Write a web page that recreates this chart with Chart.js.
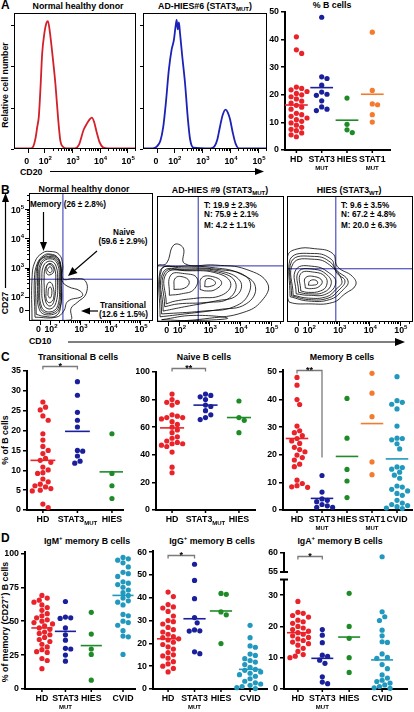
<!DOCTYPE html>
<html>
<head>
<meta charset="utf-8">
<script src="https://cdn.jsdelivr.net/npm/chart.js@4.4.0/dist/chart.umd.min.js"></script>
<style>
  body { margin: 0; width: 414px; height: 712px; position: relative; overflow: hidden; background: #fff;
         font-family: "Liberation Sans", Arial, sans-serif; font-weight: bold; color: #000; }
  canvas { position: absolute; }
  .p { position: absolute; font-size: 12px; }
  .t { position: absolute; font-size: 8.8px; white-space: nowrap; transform: translate(-50%, -50%); }
  .l { position: absolute; font-size: 8.8px; white-space: nowrap; transform: translateY(-50%); }
  .s { position: absolute; font-size: 8.2px; white-space: nowrap; transform: translateY(-50%); }
  .r { position: absolute; font-size: 8.8px; white-space: nowrap; transform: translate(-50%, -50%) rotate(-90deg); }
  sub { font-size: 6px; vertical-align: -2px; line-height: 0; }
  sup { font-size: 6px; vertical-align: 4px; line-height: 0; }
  svg { position: absolute; left: 0; top: 0; }
</style>
</head>
<body>
<div class="p" style="left:1px;top:-2px">A</div>
<div class="t" style="left:78px;top:6px">Normal healthy donor</div>
<div class="t" style="left:205px;top:6px">AD-HIES#6 (STAT3<sub>MUT</sub>)</div>
<div class="t" style="left:332px;top:5px">% B cells</div>
<div class="r" style="left:5px;top:85px">Relative cell number</div>
<div class="l" style="left:20px;top:172px">CD20</div>

<div class="p" style="left:1px;top:183px">B</div>
<div class="t" style="left:84px;top:189px">Normal healthy donor</div>
<div class="t" style="left:220px;top:190px">AD-HIES #9 (STAT3<sub>MUT</sub>)</div>
<div class="t" style="left:349px;top:190px">HIES (STAT3<sub>WT</sub>)</div>
<div class="r" style="left:5px;top:303px">CD27</div>
<div class="l" style="left:29px;top:341px">CD10</div>
<div class="s" style="left:30px;top:204px">Memory (26 ± 2.8%)</div>
<div class="t" style="left:124px;top:232px;font-size:8.2px">Naive</div>
<div class="t" style="left:123px;top:241px;font-size:8.2px">(59.6 ± 2.9%)</div>
<div class="s" style="left:100px;top:305px">Transitional</div>
<div class="s" style="left:99px;top:314px">(12.6 ± 1.5%)</div>
<div class="s" style="left:204px;top:205px">T: 19.9 ± 2.3%</div>
<div class="s" style="left:204px;top:214px">N: 75.9 ± 2.1%</div>
<div class="s" style="left:204px;top:225px">M: 4.2 ± 1.1%</div>
<div class="s" style="left:341px;top:205px">T: 9.6 ± 3.5%</div>
<div class="s" style="left:341px;top:214px">N: 67.2 ± 4.8%</div>
<div class="s" style="left:341px;top:225px">M: 20.0 ± 6.3%</div>

<div class="p" style="left:1px;top:350px">C</div>
<div class="t" style="left:78px;top:357px">Transitional B cells</div>
<div class="t" style="left:204px;top:357px">Naive B cells</div>
<div class="t" style="left:342px;top:357px">Memory B cells</div>
<div class="r" style="left:5px;top:440px">% of B cells</div>

<div class="p" style="left:1px;top:531px">D</div>
<div class="t" style="left:87px;top:541px">IgM<sup>+</sup> memory B cells</div>
<div class="t" style="left:212px;top:541px">IgG<sup>+</sup> memory B cells</div>
<div class="t" style="left:340px;top:541px">IgA<sup>+</sup> memory B cells</div>
<div class="r" style="left:5px;top:622px">% of memory (CD27<sup>+</sup>) B cells</div>

<svg width="414" height="712">
  <g stroke="#000" stroke-width="1.2" fill="#000">
    <line x1="50" y1="171.5" x2="256" y2="171.5"/>
    <polygon points="264,171.5 255,168 255,175" stroke="none"/>
    <line x1="68" y1="342" x2="396" y2="342"/>
    <polygon points="405,342 395,338 395,346" stroke="none"/>
    <line x1="5.5" y1="288" x2="5.5" y2="200"/>
    <polygon points="5.5,193 2,202 9,202" stroke="none"/>
    <line x1="43.5" y1="212" x2="43.5" y2="243"/>
    <polygon points="43.5,251 40,242 47,242" stroke="none"/>
    <line x1="97" y1="251" x2="75" y2="270"/>
    <polygon points="68,276 77.5,273 72.3,267" stroke="none"/>
    <line x1="98" y1="311" x2="89" y2="311"/>
    <polygon points="81,311 90,307.5 90,314.5" stroke="none"/>
  </g>
</svg>

<script>
// ---------- A: CD20 histograms ----------
const redX  = [-0.1, 0.5, 0.6, 0.68, 0.74, 0.8, 0.86, 0.92, 1.0, 1.08, 1.13, 1.2, 1.3, 1.4, 1.5, 1.58, 1.68, 1.8, 2.1, 2.25, 2.42, 2.55, 2.65, 2.72, 2.8, 2.9, 3.0, 3.14, 3.3, 4.32];
const redY  = [0.5, 0.5, 2, 8, 16, 24, 45, 70, 85, 93, 94, 86, 68, 48, 22, 6, 1.5, 0.5, 0.5, 3, 14, 19, 22, 23, 20, 12, 5, 1, 0.5, 0.5];
const blueX = [-0.1, 0.25, 0.4, 0.52, 0.62, 0.72, 0.82, 0.92, 1.0, 1.06, 1.1, 1.14, 1.18, 1.22, 1.3, 1.4, 1.5, 1.58, 1.7, 2.3, 2.45, 2.55, 2.64, 2.74, 2.84, 2.92, 3.0, 3.1, 3.2, 3.32, 4.32];
const blueY = [0.5, 0.5, 2, 6, 16, 35, 58, 73, 80, 90, 95, 88, 93, 85, 68, 48, 22, 7, 1, 0.5, 2, 7, 16, 25, 29, 27, 22, 12, 4, 0.5, 0.5];

// ---------- A: % B cells ----------
const aCats  = ['HD', 'STAT3', 'HIES', 'STAT1'];
const aHD    = [41, 36.3, 35, 22.8, 22.3, 21.8, 21.2, 20.5, 20, 19.3, 18.5, 17.7, 17, 16.2, 15.5, 14.8, 13.3, 12.8, 12.2, 11.6, 11, 10.4, 9.8, 9, 8.2, 7.5, 7, 6.2, 5.5, 4.8];
const aSTAT3 = [48.1, 26.5, 25.9, 23.5, 21, 20.2, 19.8, 17.8, 15.6, 14.8, 14.3];
const aHIES  = [18.8, 9.3, 7.3, 6.3];
const aSTAT1 = [42.7, 21.6, 16.7, 16.4, 12.8, 10.1];
const aMeans = [16.3, 22.6, 10.8, 20.2];

// ---------- B: contour gates (biexponential units, 1 = 10^2 ... 4 = 10^5) ----------
const bGateX = [1.43, 1.64, 1.9];
const bGateY = [1.6, 2.12, 2.02];
const bRings1 = [
  [[0.4,0.2],[0.4,1.6],[0.5,2.2],[0.75,2.5],[1.0,2.55],[1.3,2.45],[1.42,2.1],[1.43,1.62],[1.8,1.62],[2.17,1.55],[2.2,1.1],[1.9,0.8],[1.7,0.6],[1.67,0.2]],
  [[0.5,0.3],[0.48,1.6],[0.58,2.15],[0.8,2.42],[1.0,2.46],[1.25,2.35],[1.36,2.0],[1.4,1.55],[1.6,1.35],[2.0,1.2],[2.07,1.02],[1.6,0.85],[1.45,0.5],[1.2,0.3]],
  [[0.54,0.4],[0.53,1.55],[0.62,2.18],[0.85,2.4],[1.0,2.43],[1.28,2.3],[1.38,1.9],[1.38,1.5],[1.36,0.7],[1.2,0.35],[0.8,0.33]],
  [[0.58,1.5],[0.65,2.2],[1.0,2.38],[1.3,2.2],[1.36,1.5],[1.32,0.6],[1.0,0.38],[0.65,0.55]],
  [[0.62,1.5],[0.69,2.16],[1.0,2.34],[1.28,2.16],[1.33,1.5],[1.29,0.65],[1.0,0.43],[0.69,0.6]],
  [[0.65,1.5],[0.72,2.12],[1.0,2.3],[1.25,2.12],[1.3,1.5],[1.26,0.7],[1.0,0.48],[0.72,0.65]],
  [[0.72,1.5],[0.78,2.05],[1.0,2.22],[1.2,2.05],[1.25,1.5],[1.2,0.8],[1.0,0.58],[0.78,0.75]],
  [[0.8,1.5],[0.84,1.98],[1.0,2.14],[1.15,1.98],[1.19,1.5],[1.14,0.88],[1.0,0.68],[0.85,0.85]],
  [[0.86,1.9],[0.9,2.05],[1.0,2.1],[1.1,2.02],[1.12,1.85],[1.0,1.75],[0.9,1.78]],
  [[0.9,1.92],[1.0,2.03],[1.07,1.9],[1.0,1.82]],
  [[0.86,1.0],[0.9,1.4],[1.0,1.5],[1.1,1.35],[1.12,0.95],[1.0,0.8],[0.9,0.85]],
  [[0.93,1.05],[0.96,1.3],[1.03,1.32],[1.06,1.1],[1.0,0.95]]
];
const bRings2 = [
  [[0.32,0.2],[0.32,2.1],[0.6,2.2],[0.85,2.85],[1.15,2.75],[1.2,2.2],[2.2,2.15],[3.2,2.0],[3.9,1.5],[3.7,0.9],[3.1,0.5],[2.0,0.3],[0.9,0.2]],
  [[0.4,0.35],[0.4,1.95],[1.0,2.1],[2.2,2.05],[3.0,1.85],[3.5,1.4],[3.2,0.8],[2.3,0.6],[1.2,0.45]],
  [[0.45,0.45],[0.45,2.0],[1.1,2.05],[2.25,2.0],[3.2,1.75],[3.3,1.2],[2.8,0.7],[1.8,0.55]],
  [[0.5,0.55],[0.5,1.9],[1.2,2.0],[2.3,1.95],[3.0,1.6],[2.9,1.1],[2.2,0.9],[1.2,0.7]],
  [[0.55,0.7],[0.55,1.88],[1.25,1.97],[2.3,1.9],[2.85,1.55],[2.65,1.0],[1.9,0.85],[1.0,0.8]],
  [[0.6,0.8],[0.6,1.85],[1.3,1.95],[2.3,1.85],[2.7,1.5],[2.4,1.1],[1.6,1.0],[0.9,0.9]],
  [[0.7,1.1],[0.75,1.8],[1.2,1.85],[1.6,1.7],[1.5,1.3],[1.1,1.15]],
  [[0.85,1.3],[0.9,1.7],[1.2,1.72],[1.35,1.55],[1.2,1.35]],
  [[1.7,1.3],[1.75,1.7],[2.1,1.75],[2.4,1.55],[2.2,1.3],[1.9,1.25]],
  [[1.85,1.4],[1.9,1.65],[2.1,1.65],[2.2,1.5],[2.0,1.4]],
  [[0.45,0.25],[1.5,0.4],[2.6,0.3],[1.5,0.22]]
];
const bRings3 = [
  [[0.32,1.0],[0.32,2.45],[0.6,2.7],[1.2,2.72],[1.8,2.55],[1.95,2.1],[2.45,1.75],[2.55,1.45],[2.2,1.15],[1.8,0.85],[1.0,0.8],[0.4,0.85]],
  [[0.4,1.05],[0.4,2.35],[1.2,2.55],[1.75,2.35],[1.9,2.0],[2.3,1.6],[2.1,1.25],[1.7,0.95],[1.0,0.9]],
  [[0.45,1.08],[0.45,2.28],[1.2,2.45],[1.72,2.25],[1.95,1.85],[2.2,1.6],[2.0,1.28],[1.65,1.0],[1.0,0.95]],
  [[0.5,1.1],[0.5,2.2],[1.2,2.35],[1.7,2.15],[2.1,1.6],[1.9,1.3],[1.6,1.05],[1.0,1.0]],
  [[0.6,1.15],[0.6,2.0],[1.2,2.1],[1.65,1.9],[1.9,1.55],[1.6,1.15],[1.0,1.1]],
  [[0.68,1.2],[0.68,1.92],[1.2,2.0],[1.6,1.82],[1.75,1.5],[1.5,1.2],[1.0,1.15]],
  [[0.75,1.25],[0.75,1.85],[1.2,1.9],[1.55,1.75],[1.6,1.45],[1.4,1.25],[1.0,1.2]],
  [[0.9,1.35],[0.9,1.7],[1.2,1.75],[1.45,1.6],[1.35,1.4],[1.1,1.33]],
  [[1.0,1.45],[1.05,1.6],[1.25,1.62],[1.3,1.5],[1.15,1.45]]
];

// ---------- C ----------
const cTransHD    = [27.2, 25.9, 25.2, 23.7, 22.6, 19.2, 17.6, 16, 15, 14.2, 13, 12.5, 12, 10.8, 10.1, 9.4, 9.2, 7.8, 7.1, 6.5, 6.1, 5.8, 5.4, 5.0, 4.8, 1.5, 0.6];
const cTransSTAT3 = [32.3, 28.9, 24.6, 22.6, 20.9, 15, 14.8, 13.6, 12.3, 11.8];
const cTransHIES  = [19.2, 9.2, 6.1, 2.9];
const cTransMeans = [12.5, 19.8, 9.6];
const cNaiveHD    = [84, 80, 78, 78, 76, 69, 68, 67, 67, 66, 64, 62, 60, 58, 56, 53, 52, 50, 49, 48, 48, 47, 46, 42, 31, 27];
const cNaiveSTAT3 = [84, 83, 82, 80, 76, 75, 72, 69, 67, 65.5];
const cNaiveHIES  = [79, 67, 65, 56];
const cNaiveMeans = [59.5, 76, 67];
const cMemHD    = [48, 45.2, 40, 38.2, 30.4, 28.7, 28, 26.9, 25.9, 25, 24.1, 22.7, 21.9, 21.1, 19.9, 19, 18.1, 16.6, 15.7, 10.8, 9.6, 8.8, 8.4, 8.2];
const cMemSTAT3 = [12.5, 6.5, 4, 3.5, 3, 2, 1.5, 1, 1];
const cMemHIES  = [40.4, 26, 14.7, 10.5, 4.5];
const cMemSTAT1 = [49.5, 42.3, 33.8, 17.4, 12.8];
const cMemCVID  = [48.3, 39.6, 39, 38.3, 36.6, 30.4, 26, 25.9, 25.4, 24, 22.1, 15.6, 15.4, 14.8, 13.7, 12.6, 11.5, 8.7, 8.3, 7.5, 6.9, 6, 5.3, 3.5, 2.5, 2, 1.6, 1.2, 0.7, 0.5];
const cMemMeans = [25.9, 4.2, 19.4, 31.3, 18.5];

// ---------- D ----------
const dIgMHD    = [69, 67, 65.5, 64, 62, 60, 58, 55.5, 54, 52.5, 51, 50, 49, 48, 46.5, 45, 44, 42, 41, 40, 38, 36.5, 35, 33, 31, 29, 27.5, 27, 22.5, 21, 15];
const dIgMSTAT3 = [64.5, 53, 52.5, 52, 45, 40, 36, 30, 29.5, 25, 20.5];
const dIgMHIES  = [56.5, 40.5, 29.5, 25.5, 6.5];
const dIgMCVID  = [97, 96, 95, 93, 90, 86, 85, 83, 79, 78, 77, 75, 73, 71, 69, 67, 65, 64, 62, 55, 54, 50, 49, 47, 43, 39, 38.5, 25.5];
const dIgMMeans = [45, 42.5, 32, 69];
const dIgGHD    = [42.5, 40.5, 37, 36, 35.5, 34, 32, 30, 29.5, 28.5, 27, 26, 25, 24, 23, 22.5, 22, 21.5, 20.5, 19.5, 18.5, 17.5, 16, 15, 14.5, 13.5, 12, 11, 10, 9, 7.5];
const dIgGSTAT3 = [54.7, 47.6, 39.6, 31.3, 29, 25.9, 25.5, 25.4, 16.3, 15.5];
const dIgGHIES  = [41.9, 41.5, 33.8, 32.5, 19.9];
const dIgGCVID  = [27.9, 22.5, 18.9, 18.3, 15.3, 14.7, 13.3, 12.5, 11.8, 10.7, 9.5, 8.6, 8.2, 7.5, 6.9, 6.3, 5.6, 4.5, 3.4, 2.7, 2.2, 1.6, 1.1, 0.6, 0.2];
const dIgGMeans = [22, 30.8, 34.2, 8.6];
const dIgAHD    = [28, 24.5, 24.2, 23.5, 23, 22, 21.5, 21, 20, 19.5, 19, 18.5, 18, 17.5, 17, 16.5, 16, 15.5, 15, 14.5, 14, 13, 12, 11, 10.5, 10];
const dIgASTAT3 = [19, 17.2, 14.8, 10.8, 10.4, 9.2, 8.2, 3.9, 2.2, 1.7];
const dIgAHIES  = [30.6, 20, 16.2, 10, 5.3];
const dIgACVID  = [59, 24.7, 23.1, 21.9, 18.8, 17, 15.1, 14.9, 11.2, 10.1, 9.8, 7.8, 6.5, 4.5, 3.5, 2.8, 2.4, 1.9, 1.3, 0.8, 0.4, 0.2];
const dIgAMeans = [18, 9.8, 16.6, 9.3];

const RED = '#ea2229', NAVY = '#1a1f9c', GREEN = '#1f8b27', ORANGE = '#f37a2e', TEAL = '#2198bd';
const FONT = '"Liberation Sans", Arial, sans-serif';
const FS = 8.8, FSUB = 6;
Chart.defaults.font.family = FONT;
Chart.defaults.font.weight = 'bold';
Chart.defaults.font.size = FS;
Chart.defaults.color = '#000';

function pow10(ctx, e, x, y, align) {
  ctx.font = 'bold ' + FS + 'px ' + FONT;
  const w1 = ctx.measureText('10').width;
  ctx.font = 'bold ' + FSUB + 'px ' + FONT;
  const w2 = ctx.measureText(String(e)).width;
  const x0 = align === 'center' ? x - (w1 + w2) / 2 : x - (w1 + w2);
  ctx.textAlign = 'left';
  ctx.textBaseline = 'alphabetic';
  ctx.font = 'bold ' + FS + 'px ' + FONT;
  ctx.fillText('10', x0, y);
  ctx.font = 'bold ' + FSUB + 'px ' + FONT;
  ctx.fillText(String(e), x0 + w1, y - 4);
}

// frame + biexponential ticks for the flow plots
const flowAxes = {
  id: 'flowAxes',
  afterDraw(ch, args, o) {
    const ctx = ch.ctx, ca = ch.chartArea, xs = ch.scales.x, ys = ch.scales.y;
    ctx.save();
    ctx.strokeStyle = '#000';
    ctx.fillStyle = '#000';
    ctx.lineWidth = 1;
    ctx.strokeRect(ca.left + 0.5, ca.top + 0.5, ca.right - ca.left - 1, ca.bottom - ca.top - 1);
    const logTicks = (sc, zero) => {
      const out = [{ v: zero, len: 4 }];
      for (let d = 1; d <= 4; d++) {
        out.push({ v: d, len: 4 });
        for (let k = 2; k <= 9; k++) out.push({ v: d + Math.log10(k), len: 2 });
      }
      return out.filter(t => t.v >= sc.min && t.v <= sc.max);
    };
    if (o.x) {
      ctx.beginPath();
      logTicks(xs, o.x.zero).forEach(t => {
        const p = Math.round(xs.getPixelForValue(t.v)) + 0.5;
        ctx.moveTo(p, ca.bottom); ctx.lineTo(p, ca.bottom + t.len);
      });
      ctx.stroke();
      const yb = ca.bottom + o.x.base;
      ctx.font = 'bold ' + FS + 'px ' + FONT;
      ctx.textAlign = 'center';
      ctx.fillText('0', xs.getPixelForValue(o.x.zero) - 1, yb);
      [2, 3, 4, 5].forEach((e, i) => pow10(ctx, e, xs.getPixelForValue(i + 1) + 1, yb, 'center'));
    }
    if (o.y && o.y.zero != null) {
      ctx.beginPath();
      logTicks(ys, o.y.zero).forEach(t => {
        const p = Math.round(ys.getPixelForValue(t.v)) + 0.5;
        ctx.moveTo(ca.left, p); ctx.lineTo(ca.left - t.len, p);
      });
      ctx.stroke();
      ctx.font = 'bold ' + FS + 'px ' + FONT;
      ctx.textAlign = 'right';
      ctx.fillText('0', ca.left - 5, ys.getPixelForValue(o.y.zero) + 3.5);
      [2, 3, 4, 5].forEach((e, i) => pow10(ctx, e, ca.left - 5, ys.getPixelForValue(i + 1) + 3.5, 'right'));
    }
    if (o.y && o.y.marks) {
      ctx.beginPath();
      o.y.marks.forEach(v => {
        const p = Math.round(ys.getPixelForValue(v)) + 0.5;
        ctx.moveTo(ca.left, p); ctx.lineTo(ca.left - 3, p);
      });
      ctx.stroke();
    }
    ctx.restore();
  }
};

// category labels under dot plots
const catLabels = {
  id: 'catLabels',
  afterDraw(ch, args, o) {
    if (!o.items) return;
    const ctx = ch.ctx, xs = ch.scales.x, top = ch.chartArea.bottom;
    ctx.save();
    ctx.fillStyle = '#000';
    ctx.strokeStyle = '#000';
    ctx.lineWidth = 1.5;
    ctx.textBaseline = 'top';
    o.items.forEach((it, i) => {
      const px = xs.getPixelForValue(o.pos[i]);
      ctx.beginPath(); ctx.moveTo(px, top); ctx.lineTo(px, top + 3); ctx.stroke();
      ctx.font = 'bold ' + FS + 'px ' + FONT;
      if (it.sub && it.inline) {
        const w1 = ctx.measureText(it.t).width;
        ctx.font = 'bold ' + FSUB + 'px ' + FONT;
        const w2 = ctx.measureText(it.sub).width;
        const x0 = px - (w1 + w2) / 2;
        ctx.textAlign = 'left';
        ctx.font = 'bold ' + FS + 'px ' + FONT; ctx.fillText(it.t, x0, top + 5);
        ctx.font = 'bold ' + FSUB + 'px ' + FONT; ctx.fillText(it.sub, x0 + w1, top + 10);
      } else {
        ctx.textAlign = 'center';
        ctx.fillText(it.t, px, top + 5);
        if (it.sub) { ctx.font = 'bold ' + FSUB + 'px ' + FONT; ctx.fillText(it.sub, px, top + 15); }
      }
    });
    ctx.restore();
  }
};

// significance bracket
const bracket = {
  id: 'bracket',
  afterDraw(ch, args, o) {
    if (o.from == null) return;
    const ctx = ch.ctx, xs = ch.scales.x;
    const x1 = xs.getPixelForValue(o.from), x2 = xs.getPixelForValue(o.to);
    const y = Math.round(ch.chartArea.top + o.dy) + 0.5;
    ctx.save();
    ctx.strokeStyle = '#7a7a7a';
    ctx.lineWidth = 1.3;
    ctx.beginPath();
    ctx.moveTo(x1, y + 3); ctx.lineTo(x1, y); ctx.lineTo(x2, y);
    ctx.lineTo(x2, o.drop != null ? ch.scales.y.getPixelForValue(o.drop) : y + 3);
    ctx.stroke();
    ctx.fillStyle = '#000';
    ctx.font = 'bold 9px ' + FONT;
    ctx.textAlign = 'center';
    ctx.textBaseline = 'alphabetic';
    ctx.fillText(o.label, (x1 + x2) / 2, y + 2);
    ctx.restore();
  }
};

// split y axis line (IgA panel)
const brokenAxis = {
  id: 'brokenAxis',
  afterDraw(ch, args, o) {
    if (!o.segs) return;
    const ctx = ch.ctx, ys = ch.scales.y, x = ch.chartArea.left;
    ctx.save();
    ctx.strokeStyle = '#000';
    ctx.lineWidth = 2;
    o.segs.forEach(([a, b]) => {
      ctx.beginPath(); ctx.moveTo(x, ys.getPixelForValue(a)); ctx.lineTo(x, ys.getPixelForValue(b)); ctx.stroke();
    });
    o.caps.forEach(v => {
      const y = ys.getPixelForValue(v);
      ctx.beginPath(); ctx.moveTo(x - 4, y); ctx.lineTo(x + 4, y); ctx.stroke();
    });
    ctx.restore();
  }
};

function canvasAt(box, axL, axB, padT, padR) {
  const c = document.createElement('canvas');
  c.width = box[2] + axL + padR;
  c.height = box[3] + padT + axB;
  c.style.left = (box[0] - axL) + 'px';
  c.style.top = (box[1] - padT) + 'px';
  document.body.appendChild(c);
  return c;
}

function build(c, box, cfg) {
  const ch = new Chart(c, cfg);
  const ca = ch.chartArea;
  c.style.left = (box[0] - ca.left) + 'px';
  c.style.top = (box[1] - ca.top) + 'px';
  return ch;
}

function swarm(vals, pyu, d) {
  const placed = [], offs = [];
  vals.forEach((v, i) => {
    const y = v * pyu;
    for (let k = 0; k < 80; k++) {
      const off = (k % 2 ? 1 : -1) * Math.ceil(k / 2) * d * 0.5;
      if (placed.every(p => (p.x - off) ** 2 + (p.y - y) ** 2 >= d * d)) {
        placed.push({ x: off, y });
        offs[i] = off;
        break;
      }
    }
  });
  return offs;
}

const fix = (w, h) => s => {
  if (w != null) s.width = w;
  if (h != null) s.height = h;
  s.paddingTop = s.paddingBottom = s.paddingLeft = s.paddingRight = 0;
};

function flowPlot(o) {
  const axL = o.axL, axB = o.axB, padT = 4, padR = 2;
  const c = canvasAt(o.box, axL, axB, padT, padR);
  return build(c, o.box, {
    type: 'scatter',
    data: { datasets: o.datasets },
    options: {
      responsive: false, animation: false, devicePixelRatio: 1, events: [],
      layout: { padding: { top: padT, right: padR, left: 0, bottom: 0 } },
      plugins: { legend: { display: false }, tooltip: { enabled: false }, flowAxes: o.flow },
      scales: {
        x: { type: 'linear', min: o.x[0], max: o.x[1], ticks: { display: false }, grid: { display: false }, border: { display: false }, afterFit: fix(null, axB) },
        y: { type: 'linear', min: o.y[0], max: o.y[1], ticks: { display: false }, grid: { display: false }, border: { display: false }, afterFit: fix(axL, null) }
      }
    },
    plugins: [flowAxes]
  });
}

function ringSets(rings) {
  return rings.map(r => ({
    data: r.concat([r[0]]).map(([x, y]) => ({ x, y })),
    showLine: true, borderColor: '#000', borderWidth: 0.8, pointRadius: 0, tension: 0.45
  }));
}
function gateSets(gx, gy, xr, yr) {
  const st = { showLine: true, borderColor: '#2b2fb0', borderWidth: 1, pointRadius: 0 };
  return [
    Object.assign({ data: [{ x: gx, y: yr[0] }, { x: gx, y: yr[1] }] }, st),
    Object.assign({ data: [{ x: xr[0], y: gy }, { x: xr[1], y: gy }] }, st)
  ];
}

function dotPlot(o) {
  const box = o.box, axL = o.axL || 20, axB = 24, padT = o.padT || 12, padR = 4;
  const map = o.map || (v => v);
  const pyu = box[3] / (o.y[1] - o.y[0]), pxu = box[2] / (o.x[1] - o.x[0]);
  const datasets = [];
  o.groups.forEach((g, gi) => {
    const mv = g.map(map);
    const offs = swarm(mv, pyu, 5.3);
    datasets.push({
      data: mv.map((v, i) => ({ x: o.pos[gi] + offs[i] / pxu, y: v })),
      backgroundColor: o.colors[gi], borderWidth: 0, pointRadius: 2.6, clip: false
    });
    const m = map(o.means[gi]);
    datasets.push({
      data: [{ x: o.pos[gi] - o.half, y: m }, { x: o.pos[gi] + o.half, y: m }],
      showLine: true, borderColor: o.colors[gi], borderWidth: 1.6, pointRadius: 0
    });
  });
  const c = canvasAt(box, axL, axB, padT, padR);
  return build(c, box, {
    type: 'scatter',
    data: { datasets },
    options: {
      responsive: false, animation: false, devicePixelRatio: 1, events: [],
      layout: { padding: { top: padT, right: padR, left: 0, bottom: 0 } },
      plugins: {
        legend: { display: false }, tooltip: { enabled: false },
        catLabels: { items: o.labels, pos: o.pos },
        bracket: o.bracket || {},
        brokenAxis: o.broken || {}
      },
      scales: {
        x: {
          type: 'linear', min: o.x[0], max: o.x[1],
          ticks: { display: false }, grid: { display: false },
          border: { display: true, color: '#000', width: 2 },
          afterFit: fix(null, axB)
        },
        y: {
          type: 'linear', min: o.y[0], max: o.y[1],
          afterBuildTicks: s => { s.ticks = o.ticks.map(v => ({ value: v })); },
          ticks: { autoSkip: false, padding: 2, font: { size: FS, weight: 'bold' }, color: '#000',
                   callback: (v, i) => o.tickText ? o.tickText[i] : v },
          grid: { display: true, drawOnChartArea: false, drawTicks: true, tickLength: 4, color: '#000', lineWidth: 1.5 },
          border: { display: !o.broken, color: '#000', width: 2 },
          afterFit: fix(axL, null)
        }
      }
    },
    plugins: [catLabels, bracket, brokenAxis]
  });
}

// ---- A histograms ----
const histX = [-0.1, 4.32];
const pairs = (xs, ys) => xs.map((x, i) => ({ x, y: ys[i] }));
flowPlot({
  box: [14, 13, 122, 136], axL: 6, axB: 18, x: histX, y: [0, 100],
  flow: { x: { zero: 0.4, base: 15 }, y: { marks: [0, 30.5, 61, 91.5] } },
  datasets: [{ data: pairs(redX, redY), showLine: true, borderColor: '#d3202a', borderWidth: 1.8, pointRadius: 0, cubicInterpolationMode: 'monotone' }]
});
flowPlot({
  box: [143, 13, 124, 136], axL: 4, axB: 18, x: histX, y: [0, 100],
  flow: { x: { zero: 0.4, base: 15 }, y: { marks: [0, 30.5, 61, 91.5] } },
  datasets: [{ data: pairs(blueX, blueY), showLine: true, borderColor: '#1c22b8', borderWidth: 1.8, pointRadius: 0, cubicInterpolationMode: 'monotone' }]
});

// ---- A % B cells ----
dotPlot({
  box: [285, 12, 105, 138], x: [0.55, 4.7], y: [0, 50], ticks: [0, 10, 20, 30, 40, 50], padT: 8,
  pos: [1, 2, 3, 4], half: 0.45, means: aMeans,
  groups: [aHD, aSTAT3, aHIES, aSTAT1], colors: [RED, NAVY, GREEN, ORANGE],
  labels: [{ t: aCats[0] }, { t: aCats[1], sub: 'MUT' }, { t: aCats[2] }, { t: aCats[3], sub: 'MUT' }]
});

// ---- B contour plots ----
const bX = [0.3, 4.43], bY = [0.17, 4.55];
flowPlot({
  box: [29, 193, 124, 128], axL: 28, axB: 14, x: bX, y: bY,
  flow: { x: { zero: 0.65, base: 11 }, y: { zero: 0.55 } },
  datasets: ringSets(bRings1).concat(gateSets(bGateX[0], bGateY[0], bX, bY))
});
flowPlot({
  box: [157, 196, 127, 126], axL: 2, axB: 14, x: bX, y: bY,
  flow: { x: { zero: 0.65, base: 11 } },
  datasets: ringSets(bRings2).concat(gateSets(bGateX[1], bGateY[1], bX, bY))
});
flowPlot({
  box: [287, 196, 126, 126], axL: 2, axB: 14, x: bX, y: bY,
  flow: { x: { zero: 0.65, base: 11 } },
  datasets: ringSets(bRings3).concat(gateSets(bGateX[2], bGateY[2], bX, bY))
});

// ---- C ----
const c3Labels = [{ t: 'HD' }, { t: 'STAT3', sub: 'MUT', inline: true }, { t: 'HIES' }];
dotPlot({
  box: [27, 371, 96, 139], x: [0.54, 3.32], y: [0, 35], ticks: [0, 5, 10, 15, 20, 25, 30, 35],
  pos: [1, 2, 3], half: 0.36, means: cTransMeans,
  groups: [cTransHD, cTransSTAT3, cTransHIES], colors: [RED, NAVY, GREEN], labels: c3Labels,
  bracket: { from: 1, to: 2, dy: -5, label: '*' }
});
dotPlot({
  box: [156, 372, 99, 138], x: [0.52, 3.48], y: [0, 100], ticks: [0, 20, 40, 60, 80, 100],
  pos: [1, 2, 3], half: 0.36, means: cNaiveMeans,
  groups: [cNaiveHD, cNaiveSTAT3, cNaiveHIES], colors: [RED, NAVY, GREEN], labels: c3Labels,
  bracket: { from: 1, to: 2, dy: -4, label: '**' }
});
dotPlot({
  box: [283, 370, 129, 140], x: [0.44, 5.6], y: [0, 50.7], ticks: [0, 10, 20, 30, 40, 50],
  pos: [1, 2, 3, 4, 5], half: 0.45, means: cMemMeans,
  groups: [cMemHD, cMemSTAT3, cMemHIES, cMemSTAT1, cMemCVID], colors: [RED, NAVY, GREEN, ORANGE, TEAL],
  labels: [{ t: 'HD' }, { t: 'STAT3', sub: 'MUT' }, { t: 'HIES' }, { t: 'STAT1', sub: 'MUT' }, { t: 'CVID' }],
  bracket: { from: 1, to: 2, dy: 0, label: '**', drop: 19 }
});

// ---- D ----
const d4Labels = [{ t: 'HD' }, { t: 'STAT3', sub: 'MUT' }, { t: 'HIES' }, { t: 'CVID' }];
dotPlot({
  box: [25, 552, 110, 137], x: [0.28, 4.96], y: [0, 101], ticks: [0, 25, 50, 75, 100], padT: 6,
  pos: [1, 2, 3.1, 4.45], half: 0.45, means: dIgMMeans,
  groups: [dIgMHD, dIgMSTAT3, dIgMHIES, dIgMCVID], colors: [RED, NAVY, GREEN, TEAL], labels: d4Labels
});
dotPlot({
  box: [153, 551, 114, 138], x: [0.43, 4.74], y: [0, 60.5], ticks: [0, 10, 20, 30, 40, 50, 60], padT: 6,
  pos: [1, 2, 3, 4.1], half: 0.42, means: dIgGMeans,
  groups: [dIgGHD, dIgGSTAT3, dIgGHIES, dIgGCVID], colors: [RED, NAVY, GREEN, TEAL], labels: d4Labels,
  bracket: { from: 1, to: 2, dy: 4, label: '*' }
});
// IgA: axis broken between 35 and 55
const igaMap = v => (v > 45 ? 37.4 + (v - 55) * 1.22 : v);
dotPlot({
  box: [284, 552, 123, 137], x: [0.43, 5.47], y: [0, 43.8], padT: 6,
  ticks: [0, 10, 20, 30, 37.4, 43.5], tickText: ['0', '10', '20', '30', '55', '60'], map: igaMap,
  pos: [1, 2, 3.1, 4.45], half: 0.45, means: dIgAMeans,
  groups: [dIgAHD, dIgASTAT3, dIgAHIES, dIgACVID], colors: [RED, NAVY, GREEN, TEAL], labels: d4Labels,
  bracket: { from: 1, to: 2, dy: 4, label: '*' },
  broken: { segs: [[0, 35], [37.4, 43.8]], caps: [35, 37.4] }
});
</script>
</body>
</html>
